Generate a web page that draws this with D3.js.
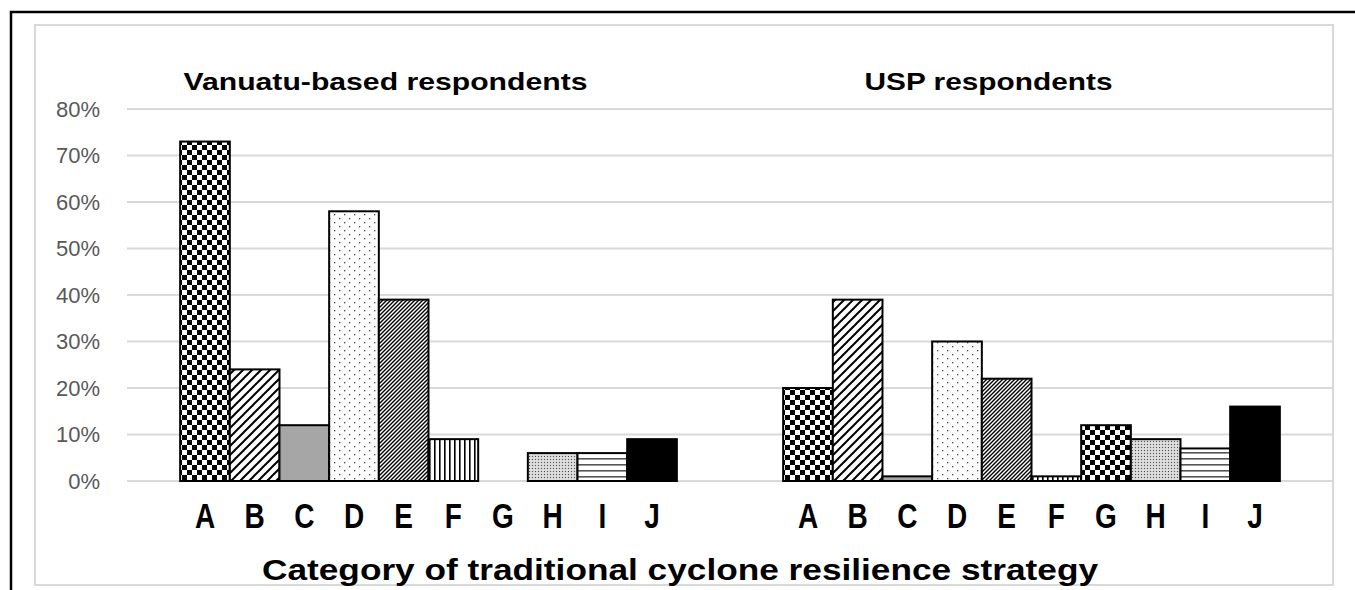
<!DOCTYPE html>
<html>
<head>
<meta charset="utf-8">
<script src="https://cdn.jsdelivr.net/npm/d3@7"></script>
<style>
  body { margin: 0; background: #fff; }
  text { font-family: "Liberation Sans", Arial, sans-serif; }
</style>
</head>
<body>
<div id="canvas"></div>
<script>
// data
var groups = ['Vanuatu-based respondents', 'USP respondents']
var cats = ['A','B','C','D','E','F','G','H','I','J']
var vanuatu = [0.73, 0.24, 0.12, 0.58, 0.39, 0.09, 0, 0.06, 0.06, 0.09]
var usp = [0.20, 0.39, 0.01, 0.30, 0.22, 0.01, 0.12, 0.09, 0.07, 0.16]
var yTicks = [0, 0.1, 0.2, 0.3, 0.4, 0.5, 0.6, 0.7, 0.8]
var xTitle = 'Category of traditional cyclone resilience strategy'

var W = 1355, H = 590
var pLeft = 127, pRight = 1333, pTop = 109, pBottom = 481

var svg = d3.select('#canvas').append('svg')
  .attr('width', W).attr('height', H)

// frames
svg.append('rect').attr('x', 11).attr('y', 12).attr('width', W).attr('height', H)
  .attr('fill', 'none').attr('stroke', '#000').attr('stroke-width', 2.5)
svg.append('rect').attr('x', 35).attr('y', 25).attr('width', pRight - 35).attr('height', 560)
  .attr('fill', 'none').attr('stroke', '#d9d9d9').attr('stroke-width', 2)

// patterns
var defs = svg.append('defs')
function pat(id, w, h) {
  return defs.append('pattern').attr('id', id).attr('patternUnits', 'userSpaceOnUse')
    .attr('width', w).attr('height', h)
}
var p
p = pat('checker', 10, 10)
p.append('rect').attr('width', 10).attr('height', 10).attr('fill', '#fff')
p.append('rect').attr('width', 5).attr('height', 5).attr('fill', '#000')
p.append('rect').attr('x', 5).attr('y', 5).attr('width', 5).attr('height', 5).attr('fill', '#000')

p = pat('wdiag', 9, 9)
p.append('rect').attr('width', 9).attr('height', 9).attr('fill', '#fff')
p.append('path').attr('d', 'M-2,2 L2,-2 M0,9 L9,0 M7,11 L11,7').attr('stroke', '#000').attr('stroke-width', 2)

p = pat('dots', 10, 8)
p.append('rect').attr('width', 10).attr('height', 8).attr('fill', '#fff')
p.append('rect').attr('x', 2).attr('y', 2).attr('width', 1.3).attr('height', 1.3).attr('fill', '#444')
p.append('rect').attr('x', 7).attr('y', 6).attr('width', 1.3).attr('height', 1.3).attr('fill', '#444')

p = pat('ddiag', 4, 4)
p.append('rect').attr('width', 4).attr('height', 4).attr('fill', '#fff')
p.append('path').attr('d', 'M-1,1 L1,-1 M0,4 L4,0 M3,5 L5,3').attr('stroke', '#000').attr('stroke-width', 1.4)

p = pat('vert', 5, 5)
p.append('rect').attr('width', 5).attr('height', 5).attr('fill', '#fff')
p.append('rect').attr('x', 2).attr('width', 1.6).attr('height', 5).attr('fill', '#000')

p = pat('fine', 3, 3)
p.append('rect').attr('width', 3).attr('height', 3).attr('fill', '#d4d4d4')
p.append('rect').attr('width', 1).attr('height', 1).attr('fill', '#555')
p.append('rect').attr('x', 1.5).attr('y', 1.5).attr('width', 1).attr('height', 1).attr('fill', '#fff')

p = pat('horiz', 6, 6)
p.append('rect').attr('width', 6).attr('height', 6).attr('fill', '#fff')
p.append('rect').attr('y', 2).attr('width', 6).attr('height', 1.6).attr('fill', '#555')

var fills = ['url(#checker)', 'url(#wdiag)', '#a6a6a6', 'url(#dots)', 'url(#ddiag)',
  'url(#vert)', 'url(#checker)', 'url(#fine)', 'url(#horiz)', '#000']

// scales
var x0 = d3.scaleBand().domain(groups).range([pLeft, pRight]).padding(0)
var x1 = d3.scaleBand().domain(cats).range([0, x0.bandwidth()]).paddingInner(0).paddingOuter(1.07)
var y = d3.scaleLinear().domain([0, 0.8]).range([pBottom, pTop])

// gridlines
svg.append('g').selectAll('line').data(yTicks).enter().append('line')
  .attr('x1', pLeft).attr('x2', pRight)
  .attr('y1', d => y(d)).attr('y2', d => y(d))
  .attr('stroke', '#d9d9d9').attr('stroke-width', 2)

// y axis
var yAxis = d3.axisLeft(y).tickValues(yTicks).tickFormat(d3.format('.0%')).tickSize(0).tickPadding(0)
var ya = svg.append('g').attr('transform', 'translate(100,0)').call(yAxis)
ya.select('.domain').remove()
ya.selectAll('text').attr('font-size', 22).attr('fill', '#595959')
  .style('font-family', '"Liberation Sans", Arial, sans-serif')

// bars
var series = [vanuatu, usp]
var gs = svg.selectAll('.grp').data(groups).enter().append('g')
  .attr('class', 'grp')
  .attr('transform', d => 'translate(' + x0(d) + ',0)')

gs.selectAll('rect').data((d, gi) => cats.map((c, i) => ({ c: c, i: i, v: series[gi][i] })))
  .enter().append('rect')
  .filter(d => d.v > 0)
  .attr('x', d => x1(d.c))
  .attr('y', d => y(d.v))
  .attr('width', x1.bandwidth())
  .attr('height', d => y(0) - y(d.v))
  .attr('fill', d => fills[d.i])
  .attr('stroke', '#000').attr('stroke-width', 2)

// category labels (narrow look)
var xAxis = d3.axisBottom(x1).tickSize(0).tickPadding(0)
gs.append('g').attr('transform', 'translate(0,503)').call(xAxis)
  .call(g => g.select('.domain').remove())
  .selectAll('text')
  .attr('dy', '0.72em')
  .attr('transform', 'scale(0.8,1)')
  .attr('font-size', 35).attr('font-weight', 'bold').attr('fill', '#000')
  .style('font-family', '"Liberation Sans", Arial, sans-serif')

// group titles
var titleLen = [404, 248]
gs.append('text')
  .attr('x', x0.bandwidth() / 2 - 43).attr('y', 90)
  .attr('text-anchor', 'middle')
  .attr('font-size', 24).attr('font-weight', 'bold')
  .attr('textLength', (d, i) => titleLen[i]).attr('lengthAdjust', 'spacingAndGlyphs')
  .text(d => d)

// axis title
svg.append('text')
  .attr('x', 680).attr('y', 580)
  .attr('text-anchor', 'middle')
  .attr('font-size', 29).attr('font-weight', 'bold')
  .attr('textLength', 836).attr('lengthAdjust', 'spacingAndGlyphs')
  .text(xTitle)
</script>
</body>
</html>
